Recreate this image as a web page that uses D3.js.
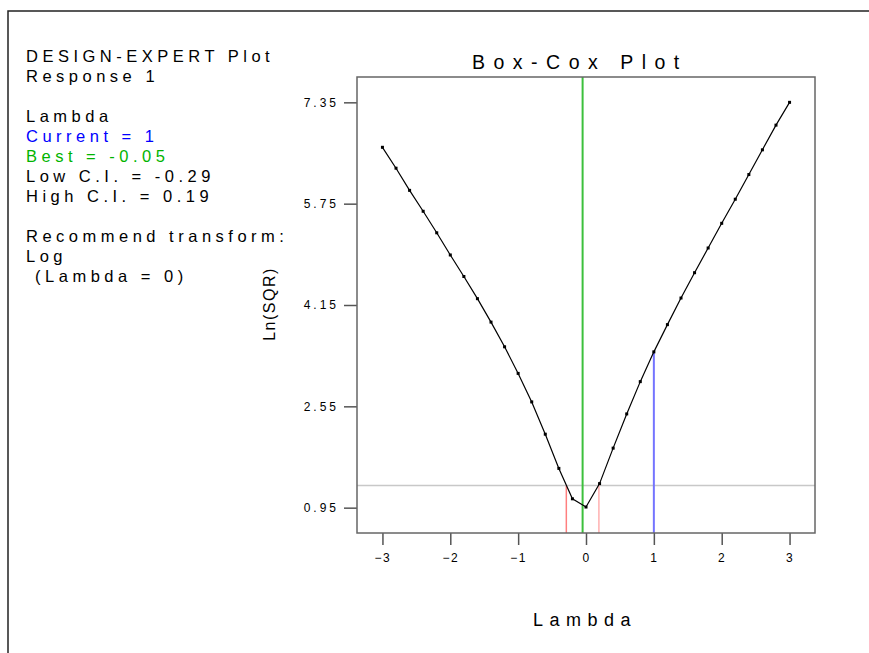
<!DOCTYPE html>
<html>
<head>
<meta charset="utf-8">
<script src="https://d3js.org/d3.v7.min.js"></script>
<style>
    body { margin: 0; background: #fff; }
    text { font-family: "Liberation Sans", Arial, sans-serif; }
</style>
</head>
<body>
<div id="chart-area"></div>
<script>
//Data
var lambdas = [-3, -2.8, -2.6, -2.4, -2.2, -2, -1.8, -1.6, -1.4, -1.2, -1, -0.8, -0.6, -0.4, -0.2,
               0, 0.2, 0.4, 0.6, 0.8, 1, 1.2, 1.4, 1.6, 1.8, 2, 2.2, 2.4, 2.6, 2.8, 3];
var lnSqr = [6.64, 6.31, 5.96, 5.63, 5.29, 4.94, 4.60, 4.25, 3.88, 3.49, 3.07, 2.62, 2.11, 1.57, 1.09,
             0.96, 1.33, 1.89, 2.43, 2.94, 3.41, 3.84, 4.26, 4.66, 5.05, 5.44, 5.82, 6.21, 6.60, 6.99, 7.35];
var xTicks = [-3, -2, -1, 0, 1, 2, 3];
var yTicks = [0.95, 2.55, 4.15, 5.75, 7.35];
var currentLambda = 1;
var bestLambda = -0.05;
var lowCI = -0.29;
var highCI = 0.19;
var ciLevel = 1.30;
var infoLines = [
    {text: 'DESIGN-EXPERT Plot', color: '#000'},
    {text: 'Response 1', color: '#000'},
    {text: '', color: '#000'},
    {text: 'Lambda', color: '#000'},
    {text: 'Current = 1', color: '#0000ff'},
    {text: 'Best = -0.05', color: '#00b400'},
    {text: 'Low C.I. = -0.29', color: '#000'},
    {text: 'High C.I. = 0.19', color: '#000'},
    {text: '', color: '#000'},
    {text: 'Recommend transform:', color: '#000'},
    {text: 'Log', color: '#000'},
    {text: ' (Lambda = 0)', color: '#000'}
];

//Margin
var margin = {left:357, right:54, top:77, bottom:120};

var width = 869 - margin.left - margin.right,
    height = 653 - margin.top - margin.bottom;

//SVG
var svg = d3.select('#chart-area')
    .append('svg')
        .attr('width', 869)
        .attr('height', 653);

//Page border
svg.append('path')
    .attr('d', 'M8,653V11H869')
    .attr('fill', 'none')
    .attr('stroke', '#222')
    .attr('stroke-width', 1.5);

//Info text
svg.append('g')
    .selectAll('text')
    .data(infoLines)
    .enter()
    .append('text')
        .attr('x', 26)
        .attr('y', function(d, i){ return 62 + i * 20; })
        .attr('font-size', '16.5px')
        .attr('letter-spacing', '4.5px')
        .style('white-space', 'pre')
        .attr('fill', function(d){ return d.color; })
        .text(function(d){ return d.text; });

var g = svg.append('g')
    .attr('transform', 'translate(' + margin.left + ',' + margin.top + ')');

//X Scale
var x = d3.scaleLinear()
    .domain([-3.375, 3.375])
    .range([0, width]);

//Y Scale
var y = d3.scaleLinear()
    .domain([0.55, 7.75])
    .range([height, 0]);

//X Axis
var xAxisCall = d3.axisBottom(x)
    .tickValues(xTicks)
    .tickSize(12)
    .tickPadding(8)
    .tickFormat(d3.format('d'));
var xAxis = g.append('g')
    .attr('class', 'x axis')
    .attr('transform', 'translate(0,' + height + ')')
    .call(xAxisCall);

//Y Axis
var yAxisCall = d3.axisLeft(y)
    .tickValues(yTicks)
    .tickSize(13)
    .tickPadding(5)
    .tickFormat(d3.format('.2f'));
var yAxis = g.append('g')
    .attr('class', 'y axis')
    .call(yAxisCall);

[xAxis, yAxis].forEach(function(a){
    a.select('.domain').remove();
    a.selectAll('line').attr('stroke', '#555').attr('stroke-width', 1.5);
    a.selectAll('text')
        .attr('fill', '#000')
        .attr('font-size', '12px')
        .style('font-family', '"Liberation Sans", Arial, sans-serif');
});
xAxis.selectAll('text').attr('letter-spacing', '1.5px');
yAxis.selectAll('text').attr('letter-spacing', '3px');

//C.I. level line
g.append('line')
    .attr('x1', 0)
    .attr('x2', width)
    .attr('y1', y(ciLevel))
    .attr('y2', y(ciLevel))
    .attr('stroke', '#c8c8c8')
    .attr('stroke-width', 1.5);

//Low / High C.I.
g.append('line')
    .attr('x1', x(lowCI)).attr('x2', x(lowCI))
    .attr('y1', y(ciLevel)).attr('y2', height)
    .attr('stroke', '#ff7f7f')
    .attr('stroke-width', 1.5);
g.append('line')
    .attr('x1', x(highCI)).attr('x2', x(highCI))
    .attr('y1', y(ciLevel)).attr('y2', height)
    .attr('stroke', '#ffb0b0')
    .attr('stroke-width', 1.5);

//Current lambda
g.append('line')
    .attr('x1', x(currentLambda)).attr('x2', x(currentLambda))
    .attr('y1', y(lnSqr[lambdas.indexOf(currentLambda)])).attr('y2', height)
    .attr('stroke', '#7474ff')
    .attr('stroke-width', 2);

//Best lambda
g.append('line')
    .attr('x1', x(bestLambda)).attr('x2', x(bestLambda))
    .attr('y1', 0).attr('y2', height)
    .attr('stroke', '#3cc03c')
    .attr('stroke-width', 2);

//Curve
var line = d3.line()
    .x(function(d, i){ return x(lambdas[i]); })
    .y(function(d){ return y(d); });

g.append('path')
    .datum(lnSqr)
    .attr('d', line)
    .attr('fill', 'none')
    .attr('stroke', '#000')
    .attr('stroke-width', 1.2);

//Points
g.selectAll('rect.pt')
    .data(lnSqr)
    .enter()
    .append('rect')
        .attr('class', 'pt')
        .attr('x', function(d, i){ return x(lambdas[i]) - 1.5; })
        .attr('y', function(d){ return y(d) - 1.5; })
        .attr('width', 3)
        .attr('height', 3)
        .attr('fill', '#000');

//Frame
g.append('rect')
    .attr('x', 0)
    .attr('y', 0)
    .attr('width', width)
    .attr('height', height)
    .attr('fill', 'none')
    .attr('stroke', '#666')
    .attr('stroke-width', 1.5);

//Title
svg.append('text')
    .attr('x', 472)
    .attr('y', 69)
    .attr('font-size', '19.5px')
    .attr('letter-spacing', '8.5px')
    .text('Box-Cox Plot');

//X Label
svg.append('text')
    .attr('x', 533)
    .attr('y', 626)
    .attr('font-size', '18px')
    .attr('letter-spacing', '6.5px')
    .text('Lambda');

//Y Label
svg.append('text')
    .attr('x', -304)
    .attr('y', 275)
    .attr('font-size', '16px')
    .attr('letter-spacing', '1.5px')
    .attr('text-anchor', 'middle')
    .attr('transform', 'rotate(-90)')
    .text('Ln(SQR)');
</script>
</body>
</html>
